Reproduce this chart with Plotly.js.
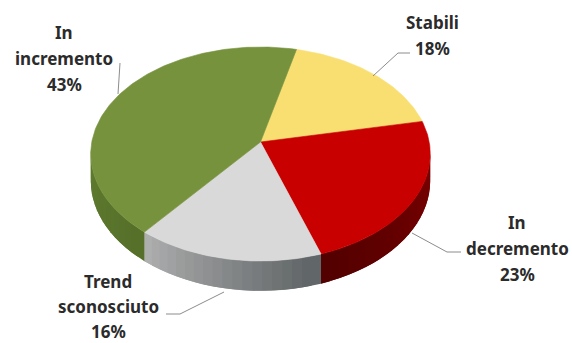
<!DOCTYPE html>
<html><head><meta charset="utf-8">
<script src="https://cdn.plot.ly/plotly-3.0.1.min.js"></script>
<style>html,body{margin:0;padding:0;background:#fff}#c{width:572px;height:343px}</style>
</head><body><div id="c"></div>
<script>
var categories = ["Stabili", "In decremento", "Trend sconosciuto", "In incremento"];
var values = [18, 23, 16, 43];
var labelLines = [["Stabili"], ["In", "decremento"], ["Trend", "sconosciuto"], ["In", "incremento"]];
var topColors = ["#F9DF72", "#C80000", "#D9D9D9", "#76923C"];
var wallFrom = ["#C9A93C", "#7A0000", "#5F6466", "#56702A"];
var wallTo = ["#C9A93C", "#500000", "#B4B4B4", "#607D2E"];

// drawing geometry (pixels)
var V = {x: 260.5, y: 142}, A = 168.7, B = 105.66, K = 0.1122, DEPTH = 26.5, START = 13.7;
var TEXT = "#2B2B2B", LEAD = "#8C8C8C";
var labelPos = [
  {x: 432, ys: [22, 48]},
  {x: 517, ys: [222, 248, 274]},
  {x: 108, ys: [281, 306, 331]},
  {x: 64, ys: [32, 58, 84]}
];
var leaders = [
  [[373, 76], [398, 53], [410, 53]],
  [[412, 233], [447, 252], [461, 252]],
  [[224, 292], [180, 314], [166, 314]],
  [[118, 94], [120, 63]]
];

function rim(deg, depth) {
  var a = deg * Math.PI / 180, u = Math.sin(a), v = Math.cos(a), w = 1 + K * v;
  return {x: V.x + A * u / w, y: V.y - B * v / w + (depth || 0) / w};
}
function hex(c) { return [1, 3, 5].map(function (i) { return parseInt(c.substr(i, 2), 16); }); }
function mix(c1, c2, t) {
  var a = hex(c1), b = hex(c2);
  return "rgb(" + a.map(function (v, i) { return Math.round(v + (b[i] - v) * t); }).join(",") + ")";
}
function poly(xs, ys, color, lw) {
  return {type: "scatter", mode: "lines", x: xs, y: ys, fill: "toself", fillcolor: color,
    line: {color: color, width: lw}, hoverinfo: "skip", showlegend: false};
}

var total = values.reduce(function (s, v) { return s + v; }, 0);
var walls = [], tops = [], ang = START;
values.forEach(function (val, i) {
  var a0 = ang, a1 = ang + val / total * 360;
  ang = a1;
  var w0 = Math.max(a0, 94), w1 = Math.min(a1, 266);
  if (w1 > w0) {
    var n = Math.max(1, Math.round((w1 - w0) / 3));
    for (var s = n - 1; s >= 0; s--) {
      // each strip runs on under the next one, so that no seam shows
      var p0 = w0 + (w1 - w0) * s / n, p1 = Math.min(w1, w0 + (w1 - w0) * (s + 1) / n + 3);
      var arc = [];
      for (var q = 0; q <= 4; q++) arc.push(p0 + (p1 - p0) * q / 4);
      var pts = arc.map(function (d) { return rim(d); })
        .concat(arc.slice().reverse().map(function (d) { return rim(d, DEPTH); }));
      pts.push(pts[0]);
      walls.push(poly(pts.map(function (p) { return p.x; }), pts.map(function (p) { return p.y; }),
        mix(wallFrom[i], wallTo[i], (s + 0.5) / n), 0));
    }
  }
  var xs = [V.x], ys = [V.y];
  for (var d = a0; d < a1; d += 1) { var r = rim(d); xs.push(r.x); ys.push(r.y); }
  var e = rim(a1); xs.push(e.x, V.x); ys.push(e.y, V.y);
  var t = poly(xs, ys, topColors[i], 0.6);
  t.name = categories[i];
  tops.push(t);
});

var leaderTraces = leaders.map(function (l) {
  return {type: "scatter", mode: "lines", x: l.map(function (p) { return p[0]; }), y: l.map(function (p) { return p[1]; }),
    line: {color: LEAD, width: 1}, hoverinfo: "skip", showlegend: false};
});

var annotations = [];
values.forEach(function (val, i) {
  var lines = labelLines[i].concat([val + "%"]);
  lines.forEach(function (txt, j) {
    annotations.push({xref: "x", yref: "y", x: labelPos[i].x, y: labelPos[i].ys[j], text: txt,
      showarrow: false, xanchor: "center", yanchor: "middle", borderpad: 0,
      font: {family: "Noto Sans", size: 17, color: TEXT, weight: 700}});
  });
});

Plotly.newPlot("c", walls.concat(tops, leaderTraces), {
  width: 572, height: 343, margin: {l: 0, r: 0, t: 0, b: 0},
  paper_bgcolor: "#fff", plot_bgcolor: "#fff", showlegend: false,
  xaxis: {range: [0, 572], visible: false, fixedrange: true},
  yaxis: {range: [343, 0], visible: false, fixedrange: true},
  annotations: annotations
}, {staticPlot: true, displayModeBar: false});
</script></body></html>
